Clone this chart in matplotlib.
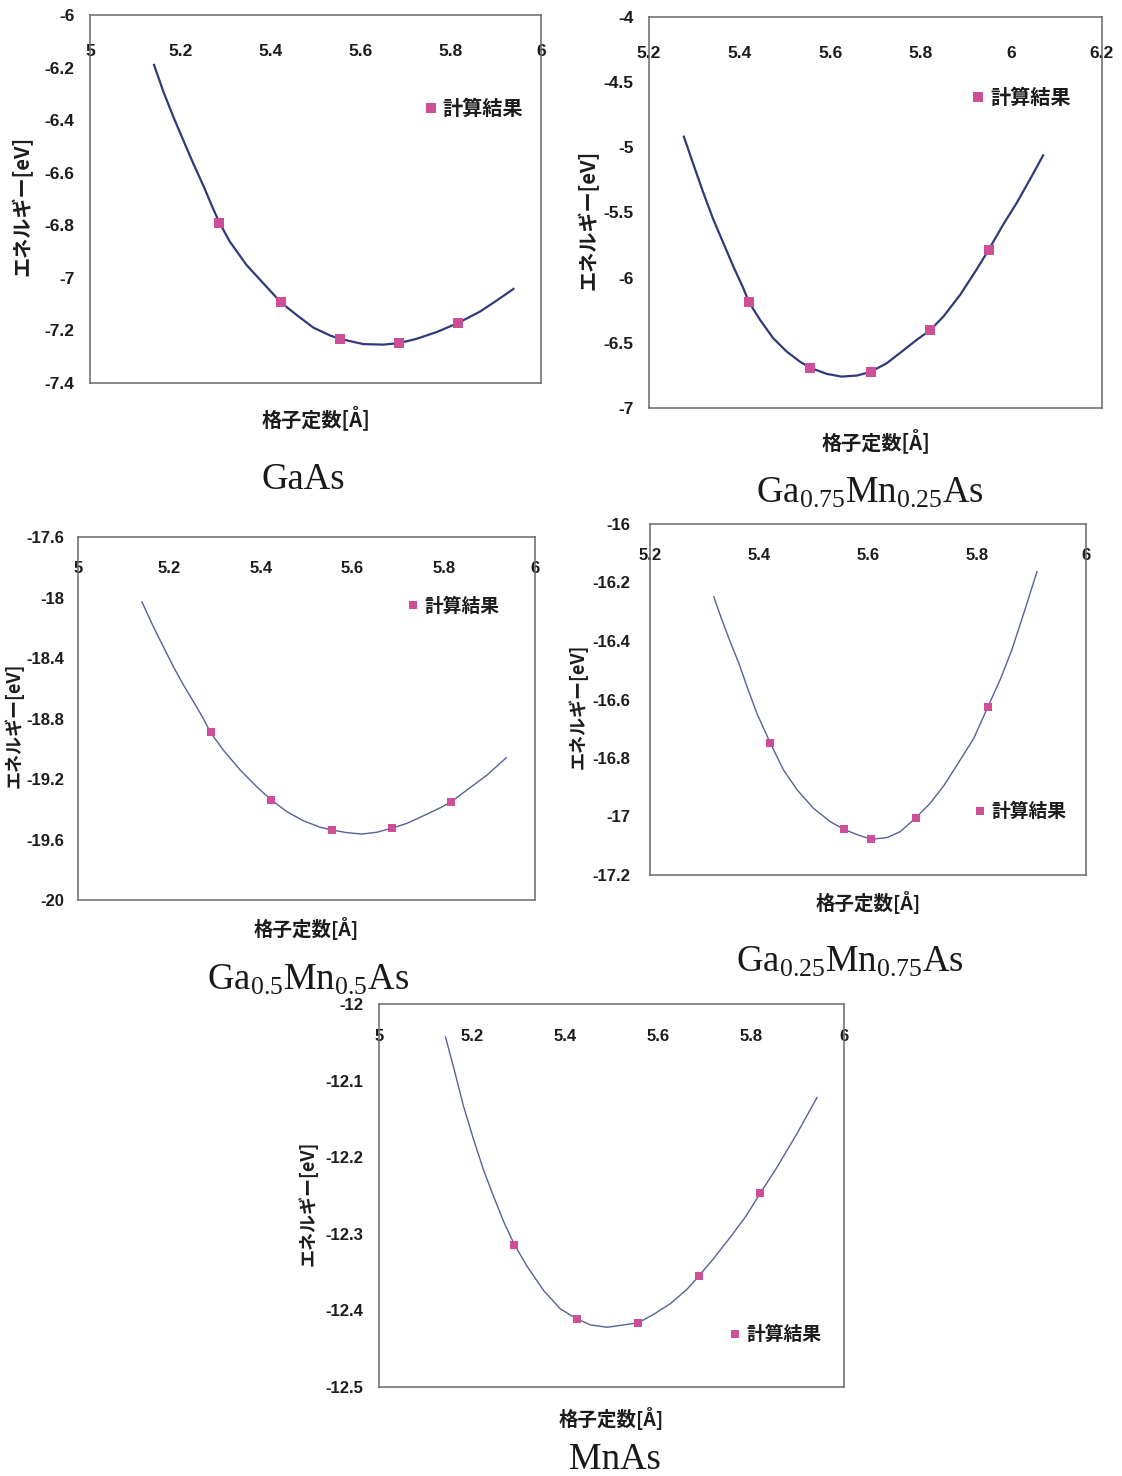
import matplotlib
matplotlib.use("Agg")
import matplotlib.pyplot as plt
from matplotlib.ticker import FixedLocator, FuncFormatter

plt.rcParams["axes.unicode_minus"] = False
plt.rcParams["mathtext.fontset"] = "custom"
plt.rcParams["mathtext.rm"] = "Liberation Serif"
plt.rcParams["mathtext.it"] = "Liberation Serif:italic"

NUM_FONT = ["Liberation Sans", "DejaVu Sans"]
JP_FONT = ["Noto Sans CJK JP", "DejaVu Sans"]

# 計算結果 (格子定数[Å], エネルギー[eV]) と近似曲線
GAAS_A = [5.287, 5.423, 5.554, 5.686, 5.817]
GAAS_E = [-6.790, -7.093, -7.232, -7.248, -7.171]
GAAS_FIT_A = [5.142, 5.163, 5.185, 5.207, 5.229, 5.251, 5.273, 5.287, 5.310, 5.347,
              5.384, 5.423, 5.458, 5.495, 5.532, 5.554, 5.606, 5.650, 5.686, 5.724,
              5.769, 5.817, 5.865, 5.902, 5.939]
GAAS_FIT_E = [-6.190, -6.293, -6.388, -6.477, -6.565, -6.648, -6.737, -6.790, -6.862, -6.951,
              -7.020, -7.093, -7.141, -7.189, -7.219, -7.232, -7.252, -7.254, -7.248, -7.232,
              -7.206, -7.171, -7.128, -7.086, -7.042]

MN25_A = [5.421, 5.555, 5.689, 5.821, 5.950]
MN25_E = [-6.190, -6.690, -6.723, -6.402, -5.785]
MN25_FIT_A = [5.277, 5.298, 5.320, 5.342, 5.364, 5.386, 5.408, 5.421, 5.445, 5.474,
              5.504, 5.533, 5.555, 5.592, 5.625, 5.659, 5.689, 5.725, 5.761, 5.791,
              5.821, 5.850, 5.887, 5.923, 5.950, 5.982, 6.012, 6.041, 6.070]
MN25_FIT_E = [-4.918, -5.131, -5.349, -5.554, -5.733, -5.913, -6.079, -6.190, -6.323, -6.464,
              -6.567, -6.644, -6.690, -6.738, -6.759, -6.751, -6.723, -6.656, -6.559, -6.477,
              -6.402, -6.298, -6.131, -5.938, -5.785, -5.592, -5.425, -5.246, -5.062]

MN50_A = [5.290, 5.423, 5.555, 5.686, 5.817]
MN50_E = [-18.892, -19.339, -19.537, -19.526, -19.350]
MN50_FIT_A = [5.140, 5.165, 5.187, 5.209, 5.231, 5.253, 5.274, 5.290, 5.318, 5.355,
              5.391, 5.423, 5.457, 5.493, 5.530, 5.555, 5.589, 5.621, 5.654, 5.686,
              5.720, 5.756, 5.793, 5.817, 5.851, 5.895, 5.937]
MN50_FIT_E = [-18.029, -18.194, -18.327, -18.459, -18.580, -18.690, -18.799, -18.892, -19.009, -19.141,
              -19.251, -19.339, -19.416, -19.476, -19.519, -19.537, -19.555, -19.564, -19.552, -19.526,
              -19.493, -19.443, -19.390, -19.350, -19.273, -19.174, -19.060]

MN75_A = [5.421, 5.556, 5.606, 5.688, 5.820]
MN75_E = [-16.750, -17.044, -17.078, -17.004, -16.625]
MN75_FIT_A = [5.317, 5.332, 5.347, 5.363, 5.378, 5.396, 5.421, 5.445, 5.470, 5.500,
              5.531, 5.556, 5.580, 5.606, 5.635, 5.659, 5.688, 5.714, 5.739, 5.763,
              5.794, 5.820, 5.843, 5.864, 5.885, 5.910]
MN75_FIT_E = [-16.249, -16.328, -16.402, -16.476, -16.556, -16.647, -16.750, -16.841, -16.909, -16.972,
              -17.018, -17.044, -17.062, -17.078, -17.072, -17.052, -17.004, -16.955, -16.895, -16.825,
              -16.733, -16.625, -16.530, -16.430, -16.310, -16.163]

MNAS_A = [5.291, 5.425, 5.558, 5.688, 5.820]
MNAS_E = [-12.314, -12.411, -12.416, -12.355, -12.247]
MNAS_FIT_A = [5.143, 5.161, 5.182, 5.204, 5.225, 5.247, 5.268, 5.291, 5.319, 5.354,
              5.390, 5.425, 5.455, 5.491, 5.526, 5.558, 5.591, 5.627, 5.663, 5.688,
              5.720, 5.756, 5.788, 5.820, 5.856, 5.899, 5.942]
MNAS_FIT_E = [-12.043, -12.084, -12.134, -12.178, -12.217, -12.252, -12.284, -12.314, -12.343, -12.374,
              -12.398, -12.411, -12.419, -12.422, -12.419, -12.416, -12.405, -12.391, -12.372, -12.355,
              -12.332, -12.304, -12.278, -12.247, -12.213, -12.169, -12.122]

GAAS_XTICKS = [5.0, 5.2, 5.4, 5.6, 5.8, 6.0]
GAAS_YTICKS = [-6.0, -6.2, -6.4, -6.6, -6.8, -7.0, -7.2, -7.4]
MN25_XTICKS = [5.2, 5.4, 5.6, 5.8, 6.0, 6.2]
MN25_YTICKS = [-4.0, -4.5, -5.0, -5.5, -6.0, -6.5, -7.0]
MN50_XTICKS = [5.0, 5.2, 5.4, 5.6, 5.8, 6.0]
MN50_YTICKS = [-17.6, -18.0, -18.4, -18.8, -19.2, -19.6, -20.0]
MN75_XTICKS = [5.2, 5.4, 5.6, 5.8, 6.0]
MN75_YTICKS = [-16.0, -16.2, -16.4, -16.6, -16.8, -17.0, -17.2]
MNAS_XTICKS = [5.0, 5.2, 5.4, 5.6, 5.8, 6.0]
MNAS_YTICKS = [-12.0, -12.1, -12.2, -12.3, -12.4, -12.5]

TITLES = ["GaAs",
          r"$\mathrm{Ga_{0.75}Mn_{0.25}As}$",
          r"$\mathrm{Ga_{0.5}Mn_{0.5}As}$",
          r"$\mathrm{Ga_{0.25}Mn_{0.75}As}$",
          "MnAs"]

W, H = 1122, 1476
LINE_DARK = "#2f3b78"
LINE_LIGHT = "#56619a"
MARK = "#cc4f98"
TXT = "#1c1c1c"


def px_rect(x0, y0, x1, y1):
    return [x0 / W, 1 - y1 / H, (x1 - x0) / W, (y1 - y0) / H]


def draw_panel(fig, rect, a, e, fa, fe, xt, yt, leg_xy, style):
    ax = fig.add_axes(px_rect(*rect))
    ax.plot(fa, fe, color=style["lc"], lw=style["lw"], zorder=2)
    ax.plot(a, e, "s", color=MARK, ms=style["ms"], mew=0, lw=0, zorder=3, label="計算結果")
    ax.set_xlim(xt[0], xt[-1])
    ax.set_ylim(yt[-1], yt[0])

    fmt = FuncFormatter(lambda v, p: "%g" % round(v, 3))
    ax.xaxis.set_major_locator(FixedLocator(xt))
    ax.yaxis.set_major_locator(FixedLocator(yt))
    ax.xaxis.set_major_formatter(fmt)
    ax.yaxis.set_major_formatter(fmt)
    # 横軸は上端 (E=0側) に付く
    ax.xaxis.set_ticks_position("top")
    ax.tick_params(axis="x", length=0, pad=style["xpad"], labelsize=style["fs"])
    ax.tick_params(axis="y", length=0, pad=style["ypad"], labelsize=style["fs"])
    for lab in ax.get_xticklabels() + ax.get_yticklabels():
        lab.set_family(NUM_FONT)
        lab.set_fontweight("bold")
        lab.set_color(TXT)

    for sp in ax.spines.values():
        sp.set_color("#6a6a6a")
        sp.set_linewidth(1.1)

    h_px = rect[3] - rect[1]
    w_px = rect[2] - rect[0]
    ax.text(0.5, -style["xl_off"] / h_px, "格子定数[Å]", transform=ax.transAxes,
            ha="center", va="center", family=JP_FONT, fontweight="bold",
            fontsize=style["xlfs"], color=TXT)
    ax.text(-style["yl_off"] / w_px, 0.48, "エネルギー[eV]", transform=ax.transAxes,
            ha="center", va="center", rotation=90, family=JP_FONT, fontweight="bold",
            fontsize=style["ylfs"], color=TXT)

    leg = ax.legend(loc="center left", bbox_to_anchor=leg_xy, frameon=False,
                    handlelength=0.5, handletextpad=0.35, borderaxespad=0,
                    prop={"family": JP_FONT, "weight": "bold", "size": style["lgfs"]})
    for t in leg.get_texts():
        t.set_color(TXT)
    return ax


big = dict(lc=LINE_DARK, lw=1.6, ms=7.0, fs=12.5, xlfs=14.5, ylfs=14.5, lgfs=14.5,
           xpad=-32, ypad=11, xl_off=35, yl_off=68)
small = dict(lc=LINE_LIGHT, lw=1.0, ms=6.0, fs=12, xlfs=14, ylfs=13, lgfs=13.5,
             xpad=-28, ypad=10, xl_off=28, yl_off=64)

fig = plt.figure(figsize=(W / 100, H / 100), dpi=100)

draw_panel(fig, (90, 15, 541, 383), GAAS_A, GAAS_E, GAAS_FIT_A, GAAS_FIT_E,
           GAAS_XTICKS, GAAS_YTICKS, (0.726, 0.745), big)
draw_panel(fig, (649, 17, 1102, 408), MN25_A, MN25_E, MN25_FIT_A, MN25_FIT_E,
           MN25_XTICKS, MN25_YTICKS, (0.697, 0.793), dict(big, xl_off=33, yl_off=61))
draw_panel(fig, (78, 537, 535, 900), MN50_A, MN50_E, MN50_FIT_A, MN50_FIT_E,
           MN50_XTICKS, MN50_YTICKS, (0.706, 0.81), small)
draw_panel(fig, (650, 524, 1086, 875), MN75_A, MN75_E, MN75_FIT_A, MN75_FIT_E,
           MN75_XTICKS, MN75_YTICKS, (0.73, 0.18), dict(small, ypad=14, yl_off=72))
draw_panel(fig, (379, 1004, 844, 1387), MNAS_A, MNAS_E, MNAS_FIT_A, MNAS_FIT_E,
           MNAS_XTICKS, MNAS_YTICKS, (0.74, 0.136), dict(small, xpad=-29, ypad=11,
                                                         xl_off=31, yl_off=71))

# 物質名 (各グラフの下)
title_pos = [(303, 480), (870, 493), (308, 980), (850, 962), (615, 1460)]
for (tx, ty), name in zip(title_pos, TITLES):
    fig.text(tx / W, 1 - ty / H, name, ha="center", va="center",
             family="Liberation Serif", fontsize=26.5, color="#1a1a1a")

fig.savefig("out.png", dpi=100, facecolor="white")
